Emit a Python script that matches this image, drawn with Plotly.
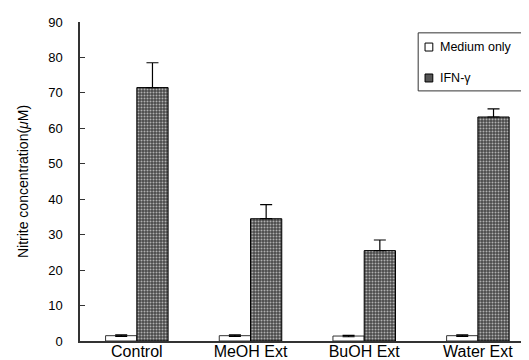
import plotly.graph_objects as go

categories = ["Control", "MeOH Ext", "BuOH Ext", "Water Ext"]
medium_only = [1.5, 1.5, 1.4, 1.5]
medium_err = [0.2, 0.2, 0.2, 0.2]
ifn_gamma = [71.5, 34.5, 25.5, 63.2]
ifn_err = [7.0, 4.0, 3.0, 2.3]
y_ticks = [0, 10, 20, 30, 40, 50, 60, 70, 80, 90]
legend_labels = ["Medium only", "IFN-γ"]

font = "Liberation Sans, Arial, sans-serif"

fig = go.Figure()
fig.add_trace(go.Bar(
    x=categories, y=medium_only, name=legend_labels[0],
    marker=dict(color="white", line=dict(color="#333", width=1)),
    error_y=dict(type="data", array=medium_err, color="black", thickness=1.2, width=6),
))
fig.add_trace(go.Bar(
    x=categories, y=ifn_gamma, name=legend_labels[1],
    marker=dict(color="#5a5a5a", line=dict(color="black", width=1),
                pattern=dict(shape=".", bgcolor="#4a4a4a", fgcolor="#b0b0b0",
                             size=3, solidity=0.35, fillmode="replace")),
    error_y=dict(type="data", symmetric=False, array=ifn_err,
                 arrayminus=[0, 0, 0, 0], color="black", thickness=1.2, width=6),
))

# custom legend box (paper coords of plot area)
shapes = [
    dict(type="rect", xref="paper", yref="paper", x0=0.740, x1=0.976, y0=0.784, y1=0.966,
         line=dict(color="#333", width=1), fillcolor="white", layer="above"),
    dict(type="rect", xref="paper", yref="paper", x0=0.755, x1=0.772, y0=0.909, y1=0.934,
         line=dict(color="black", width=1), fillcolor="white", layer="above"),
    dict(type="rect", xref="paper", yref="paper", x0=0.755, x1=0.772, y0=0.812, y1=0.837,
         line=dict(color="black", width=1), fillcolor="#555555", layer="above"),
]
annotations = [
    dict(text=legend_labels[0], xref="paper", yref="paper", x=0.783, y=0.921,
         xanchor="left", yanchor="middle", showarrow=False, font=dict(size=12.5)),
    dict(text=legend_labels[1], xref="paper", yref="paper", x=0.783, y=0.825,
         xanchor="left", yanchor="middle", showarrow=False, font=dict(size=12.5)),
]

fig.update_layout(
    width=529, height=360,
    margin=dict(l=72, r=0, t=14, b=27),
    paper_bgcolor="white", plot_bgcolor="white",
    barmode="group", bargap=0.45, bargroupgap=0,
    font=dict(family=font, size=13, color="black"),
    showlegend=False,
    shapes=shapes, annotations=annotations,
    xaxis=dict(showline=True, linecolor="#333", linewidth=1.5, ticks="",
               tickfont=dict(size=16), range=[-0.5, 3.52], ticklabelstandoff=-5),
    yaxis=dict(range=[0, 90], tickvals=y_ticks, showline=True, linecolor="#333",
               linewidth=1.5, ticks="inside", ticklen=5, tickcolor="#333",
               showgrid=False, zeroline=False, ticklabelstandoff=13,
               tickfont=dict(size=13),
               title=dict(text="Nitrite concentration(<i>μ</i>M)", font=dict(size=14),
                          standoff=16)),
)

fig.write_html("out.html")
